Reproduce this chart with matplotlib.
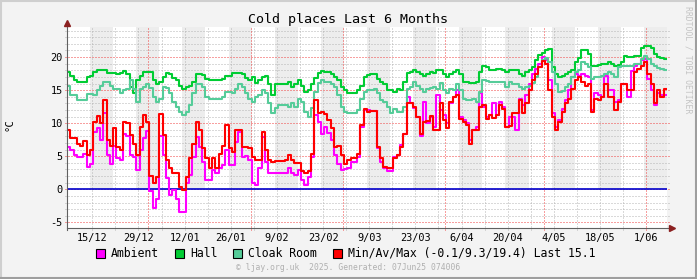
import numpy as np
import pandas as pd
import matplotlib
matplotlib.use('Agg')
import matplotlib.pyplot as plt
from matplotlib.patches import Rectangle
from matplotlib.lines import Line2D

# ---------------------------------------------------------------------------
# data: one reading per day, 6 months back from 07 Jun 2025 07:40
start = pd.Timestamp('2024-12-07 07:40')
end = pd.Timestamp('2025-06-07 07:40')
days = pd.date_range(start, periods=182, freq='D')

hall = [17.7, 17.2, 16.6, 16.2, 16.2, 16.2, 17.0, 17.2, 17.7, 18.0, 18.0, 18.0, 17.6, 17.6, 17.6, 17.4, 17.6, 17.9, 17.5, 15.5, 14.5, 16.5, 17.2, 17.7, 17.7, 17.7,
        16.5, 16.0, 16.2, 17.0, 17.6, 17.5, 16.8, 16.6, 15.7, 15.1, 15.5, 15.6, 16.2, 17.5, 17.5, 17.3, 16.7, 16.6, 16.5, 16.5, 16.6, 16.7, 17.2, 17.2, 17.6, 17.6,
        17.6, 17.4, 16.9, 16.6, 17.0, 16.1, 16.5, 17.0, 17.1, 16.0, 14.2, 16.0, 15.9, 16.0, 16.0, 16.2, 15.5, 16.0, 16.6, 15.7, 14.7, 15.0, 16.0, 16.8, 17.6, 17.9,
        17.7, 17.7, 17.5, 17.0, 16.5, 15.5, 15.0, 14.6, 14.6, 14.6, 15.0, 15.7, 17.0, 17.3, 17.5, 17.5, 16.7, 16.2, 16.0, 15.0, 15.0, 14.7, 15.2, 15.0, 16.2, 17.6,
        17.7, 18.0, 17.7, 17.5, 17.1, 17.5, 17.7, 17.6, 18.0, 18.1, 17.5, 17.0, 17.5, 17.7, 18.0, 17.5, 16.2, 16.2, 16.1, 16.1, 16.2, 17.7, 18.7, 18.5, 18.1, 18.1,
        18.2, 18.2, 18.0, 17.7, 18.0, 18.0, 18.0, 17.5, 17.2, 17.7, 18.0, 18.5, 19.5, 20.3, 20.6, 21.1, 21.2, 18.5, 17.5, 17.0, 17.2, 17.5, 17.7, 18.0, 19.2, 19.9,
        21.0, 21.0, 20.5, 18.7, 18.7, 18.8, 19.0, 19.0, 19.3, 19.0, 18.7, 18.8, 19.2, 20.2, 20.0, 20.0, 20.2, 20.2, 21.4, 21.7, 21.7, 21.3, 20.5, 20.0, 19.8, 19.7]

cloak_room = [15.7, 14.2, 14.2, 13.5, 13.5, 13.5, 14.4, 14.4, 14.2, 15.0, 15.7, 16.2, 16.2, 15.7, 15.2, 15.2, 14.5, 15.0, 15.2, 16.5, 15.2, 13.2, 15.2, 15.5, 16.0, 15.3,
              14.0, 13.2, 13.7, 15.5, 15.3, 14.5, 13.2, 12.5, 11.7, 11.2, 11.7, 12.8, 14.5, 16.0, 16.0, 15.5, 14.0, 13.7, 13.6, 13.6, 13.7, 14.0, 14.7, 14.7, 14.5, 15.1,
              16.0, 15.5, 14.5, 13.7, 13.2, 14.0, 14.2, 15.0, 14.5, 13.0, 11.5, 12.3, 12.7, 12.7, 12.7, 12.5, 13.0, 12.5, 13.7, 13.2, 11.7, 11.0, 12.3, 14.7, 16.1, 16.5,
              16.2, 16.2, 16.0, 15.5, 14.2, 12.5, 11.7, 11.5, 11.5, 11.5, 12.0, 13.7, 14.7, 15.0, 15.0, 15.2, 14.5, 13.5, 13.2, 12.5, 11.5, 12.2, 11.7, 11.7, 12.5, 15.1,
              15.5, 16.2, 15.7, 15.2, 14.7, 15.2, 15.3, 15.5, 15.2, 16.1, 15.0, 14.5, 15.2, 15.0, 16.0, 15.0, 13.7, 13.5, 13.5, 13.6, 13.2, 14.7, 16.5, 16.4, 16.2, 16.2,
              16.2, 16.2, 16.2, 15.5, 16.2, 16.0, 16.0, 15.5, 15.2, 15.5, 15.7, 16.1, 17.0, 18.5, 19.5, 19.8, 19.3, 17.7, 16.0, 14.7, 14.9, 15.5, 16.0, 17.0, 17.7, 18.0,
              19.2, 19.0, 18.5, 16.7, 17.0, 17.0, 17.2, 17.5, 17.7, 17.5, 17.0, 18.5, 18.7, 18.7, 18.7, 18.7, 19.0, 19.0, 19.7, 20.1, 19.7, 19.0, 18.6, 18.3, 18.2, 18.1]

ambient = [6.4, 5.9, 5.2, 4.9, 4.9, 5.3, 3.4, 3.9, 8.7, 9.2, 7.5, 11.5, 5.2, 3.9, 6.6, 4.7, 4.4, 8.4, 8.1, 5.2, 4.9, 2.9, 5.9, 7.7, 8.8, -0.3,
           -2.9, -1.5, 8.0, 5.2, 1.7, -0.9, -0.1, -1.4, -3.4, -3.4, 1.0, 2.2, 4.9, 7.9, 6.4, 4.2, 1.4, 1.4, 2.9, 2.4, 3.2, 3.7, 5.9, 3.7, 3.7, 7.2,
           8.7, 4.9, 5.0, 4.5, 1.0, 0.6, 3.2, 7.9, 4.2, 2.4, 2.5, 2.5, 2.5, 2.4, 2.4, 3.2, 2.4, 2.2, 2.9, 1.4, 0.6, 1.9, 4.9, 11.2, 10.2, 8.4,
           9.5, 8.5, 7.5, 5.2, 3.9, 2.9, 3.0, 3.2, 4.2, 4.2, 4.9, 9.4, 12.0, 12.0, 11.9, 11.9, 6.2, 4.2, 3.2, 2.7, 2.7, 4.9, 5.2, 6.7, 8.4, 14.0,
           13.1, 12.3, 11.0, 8.0, 13.2, 10.0, 11.0, 9.5, 14.2, 12.0, 11.3, 10.0, 13.0, 14.0, 15.0, 11.0, 10.5, 10.0, 7.5, 9.0, 9.5, 14.5, 12.5, 11.0, 11.3, 13.0,
           11.2, 13.2, 12.5, 9.5, 10.9, 10.9, 8.9, 13.7, 12.7, 14.2, 16.0, 17.5, 18.2, 19.0, 20.0, 19.5, 16.5, 11.5, 9.4, 10.5, 12.2, 13.5, 15.0, 17.0, 17.5, 17.2,
           17.5, 17.2, 17.0, 12.0, 14.5, 14.2, 14.0, 17.2, 15.0, 15.0, 13.2, 13.5, 16.0, 16.0, 14.0, 17.9, 18.7, 19.0, 19.5, 19.7, 16.7, 15.0, 12.7, 14.5, 14.2, 14.2]

outside = [8.9, 7.7, 7.8, 6.9, 6.5, 7.3, 5.2, 5.9, 10.2, 11.1, 10.0, 13.5, 7.5, 6.5, 9.2, 6.4, 5.9, 10.2, 10.0, 8.2, 6.9, 5.2, 9.4, 11.2, 10.2, 2.0,
           1.0, 1.9, 11.4, 8.2, 4.5, 3.2, 2.5, 2.5, 0.4, -0.1, 1.9, 4.7, 6.9, 10.2, 8.9, 6.2, 4.7, 3.2, 4.7, 3.2, 5.4, 6.5, 9.7, 6.2, 5.7, 8.9,
           8.9, 6.4, 6.4, 6.2, 4.9, 4.4, 4.4, 8.7, 5.9, 4.4, 4.2, 4.3, 4.3, 4.3, 4.5, 5.2, 4.4, 4.0, 4.0, 2.7, 2.4, 2.7, 5.4, 13.5, 11.5, 11.7,
           11.4, 10.5, 9.2, 6.4, 6.5, 5.2, 3.9, 4.4, 4.7, 4.7, 5.4, 9.7, 12.2, 11.7, 11.9, 11.9, 6.4, 4.7, 3.4, 3.2, 3.2, 4.7, 5.2, 6.4, 8.4, 13.0,
           13.1, 12.5, 11.0, 8.3, 10.2, 10.3, 11.1, 9.0, 8.9, 13.0, 10.5, 9.2, 13.2, 14.0, 14.2, 10.7, 10.2, 9.7, 6.9, 8.9, 8.9, 12.5, 12.7, 10.7, 11.3, 10.8,
           11.2, 12.7, 12.2, 9.4, 9.6, 11.5, 11.5, 13.5, 11.5, 13.0, 15.0, 16.5, 17.5, 18.5, 19.4, 19.0, 15.0, 11.0, 8.9, 10.2, 11.7, 13.0, 13.7, 15.2, 16.5, 17.0,
           16.2, 15.7, 16.0, 11.7, 13.7, 13.5, 14.0, 16.0, 14.0, 14.0, 12.0, 13.2, 16.0, 16.0, 15.0, 15.0, 17.7, 18.2, 18.7, 19.2, 17.5, 16.0, 13.0, 15.0, 14.0, 15.1]

legend_names = ['Ambient', 'Hall', 'Cloak Room', 'Min/Av/Max (-0.1/9.3/19.4) Last 15.1']
colors = ['#ff00ff', '#00cc33', '#55cc99', '#ff0000']
# ---------------------------------------------------------------------------

W, H = 697, 279
MONO = 'DejaVu Sans Mono'
plt.rcParams['font.family'] = MONO

fig = plt.figure(figsize=(W / 100, H / 100), dpi=100, facecolor='#f3f3f3')

# plot area in pixels: x 67..667, y 27..228
ax = fig.add_axes([67 / W, (H - 228) / H, 600 / W, 201 / H])
ax.set_facecolor('white')
ymin, ymax = -5.85, 24.55
ax.set_xlim(start, end)
ax.set_ylim(ymin, ymax)
for s in ax.spines.values():
    s.set_visible(False)

# alternating week shading, from 0 up
band = start + pd.Timedelta(days=7)
while band < end:
    ax.fill_between([band, band + pd.Timedelta(days=7)], 0, ymax, color='#ededed', lw=0, zorder=0.2)
    band += pd.Timedelta(days=14)

# grid (dotted)
dot = (0, (1, 2))
gx = 2 / 600
gy = 2 / 201
for v in range(-5, 25):
    c = '#f04040' if v % 5 == 0 else '#b4b4b4'
    ax.axhline(v, xmin=-gx, xmax=1 + gx, color=c, lw=0.72, ls=dot, zorder=0.5, clip_on=False)
months = pd.date_range('2025-01-01', end, freq='MS')
for d in pd.date_range('2024-12-15', end, freq='7D'):
    if d not in months:
        ax.axvline(d, ymin=-gy, ymax=1, color='#b4b4b4', lw=0.72, ls=dot, zorder=0.5, clip_on=False)
for d in months:
    ax.axvline(d, ymin=-gy, ymax=1, color='#f04040', lw=0.72, ls=dot, zorder=0.5, clip_on=False)

# zero line
ax.axhline(0, color='#0000cc', lw=1.2, zorder=3)

# series as steps
xs = list(days) + [end]
for vals, c in [(ambient, colors[0]), (hall, colors[1]), (cloak_room, colors[2]), (outside, colors[3])]:
    ax.step(xs, list(vals) + [vals[-1]], where='post', color=c, lw=1.5, zorder=4)

# axes with arrows
ax.plot([0, 1.008], [0, 0], transform=ax.transAxes, color='#606060', lw=0.8, clip_on=False, zorder=5)
ax.plot([0, 0], [-0.012, 1.02], transform=ax.transAxes, color='#606060', lw=0.8, clip_on=False, zorder=5)
ax.plot([1.008], [0], marker='>', ms=4, color='#8b2020', transform=ax.transAxes, clip_on=False, zorder=6)
ax.plot([0], [1.022], marker='^', ms=4, color='#8b2020', transform=ax.transAxes, clip_on=False, zorder=6)

# ticks
labels_at = pd.date_range('2024-12-15', end, freq='14D')
ax.set_xticks(labels_at)
ax.set_xticklabels([f'{d.day}/{d.month:02d}' for d in labels_at])
ax.set_yticks([-5, 0, 5, 10, 15, 20])
ax.set_yticklabels(['-5', '0', '5', '10', '15', '20'])
ax.tick_params(axis='x', length=0, pad=3.5, labelsize=7.4)
ax.tick_params(axis='y', length=0, pad=3, labelsize=7.4)

# texts
fig.text(348.5 / W, 1 - 19 / H, 'Cold places Last 6 Months', ha='center', va='center', fontsize=9.6)
fig.text(10 / W, 1 - 125 / H, '°C', rotation=90, ha='center', va='center', fontsize=7.6)
fig.text(688 / W, 1 - 60 / H, 'RRDTOOL / TOBI OETIKER', rotation=270, ha='center', va='center',
         fontsize=5.9, color='#c4c4c4')
fig.text(348 / W, 1 - 267.5 / H, '\u00a9 ljay.org.uk  2025. Generated: 07Jun25 074006', ha='center', va='center',
         fontsize=5.8, color='#b0b0b0')

# legend
box_x = [96, 175, 233, 333]
for bx, name, c in zip(box_x, legend_names, colors):
    fig.patches.append(Rectangle((bx / W, 1 - 258 / H), 9 / W, 9 / H, transform=fig.transFigure,
                                 facecolor=c, edgecolor='black', lw=0.8))
    fig.text((bx + 15) / W, 1 - 253.5 / H, name, ha='left', va='center', fontsize=8.3)

# 3d frame
fig.add_artist(Line2D([0, 1], [1 - 1 / H, 1 - 1 / H], transform=fig.transFigure, color='#cfcfcf', lw=1.5))
fig.add_artist(Line2D([1 / W, 1 / W], [0, 1], transform=fig.transFigure, color='#cfcfcf', lw=1.5))
fig.add_artist(Line2D([0, 1], [1 / H, 1 / H], transform=fig.transFigure, color='#9e9e9e', lw=1.5))
fig.add_artist(Line2D([1 - 1 / W, 1 - 1 / W], [0, 1], transform=fig.transFigure, color='#9e9e9e', lw=1.5))

fig.savefig('out.png', dpi=100, facecolor=fig.get_facecolor())
